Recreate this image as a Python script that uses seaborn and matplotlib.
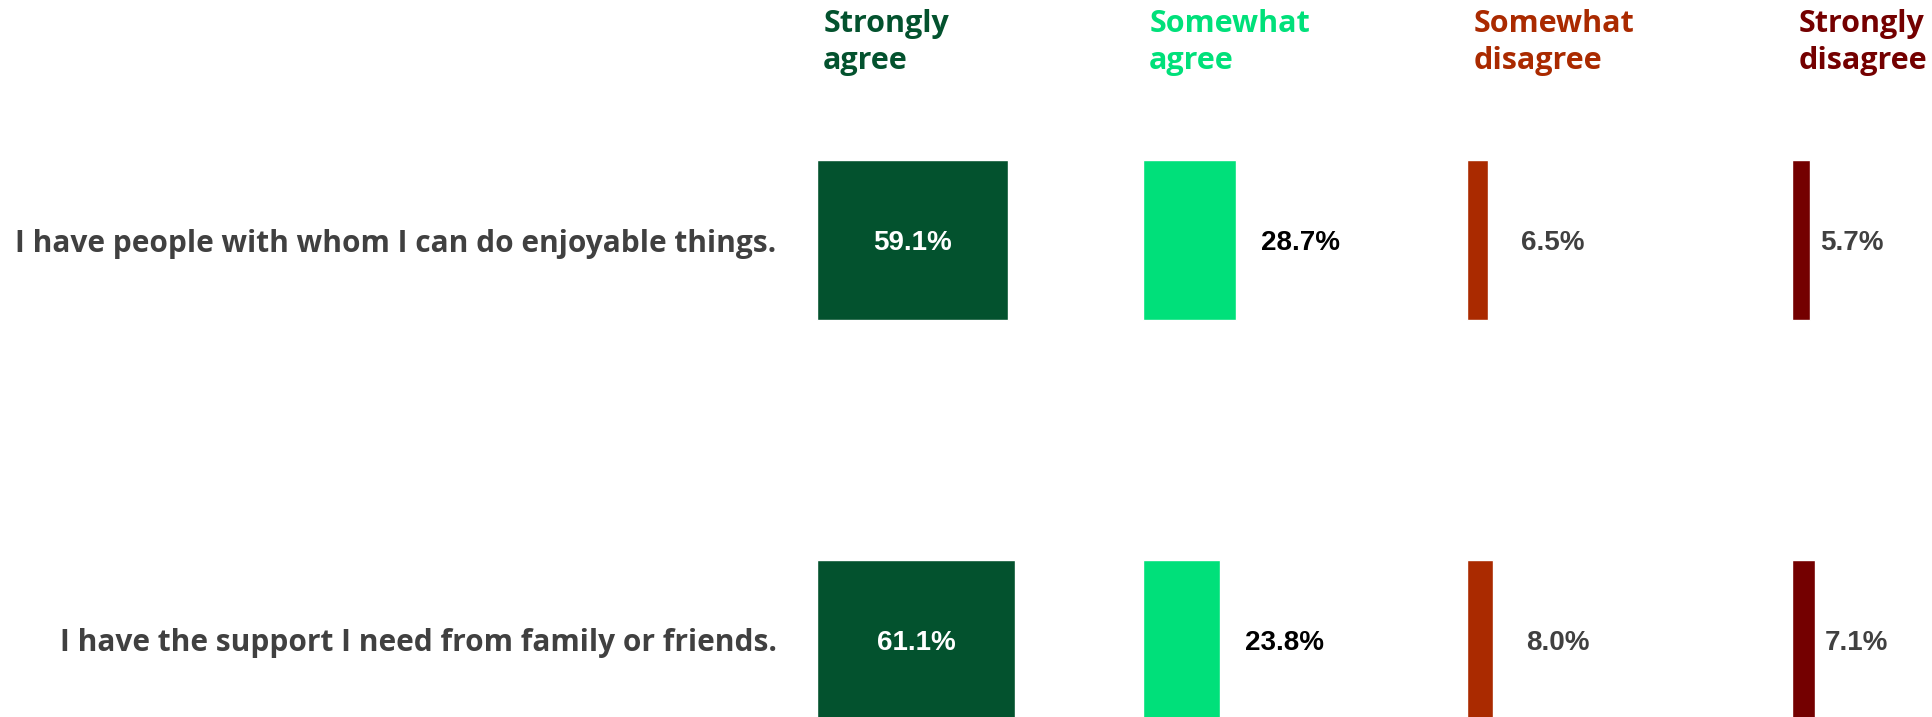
import seaborn as sns
import pandas as pd
import matplotlib.pyplot as plt

statements = [
    "I have people with whom I can do enjoyable things.",
    "I have the support I need from family or friends.",
]
responses = ["Strongly agree", "Somewhat agree", "Somewhat disagree", "Strongly disagree"]
headers = ["Strongly\nagree", "Somewhat\nagree", "Somewhat\ndisagree", "Strongly\ndisagree"]
strongly_agree = [59.1, 61.1]
somewhat_agree = [28.7, 23.8]
somewhat_disagree = [6.5, 8.0]
strongly_disagree = [5.7, 7.1]

colors = ["#03522E", "#00E07A", "#AA2A00", "#740000"]
label_colors = ["white", "black", "#404040", "#404040"]
label_offsets = [0, 18, 24, 7]  # points after the bar end

df = pd.DataFrame({
    "statement": statements * 4,
    "response": [r for r in responses for _ in statements],
    "value": strongly_agree + somewhat_agree + somewhat_disagree + strongly_disagree,
})

sns.set_theme(style="white")
plt.rcParams["font.family"] = ["Open Sans", "DejaVu Sans"]

W, H = 1933, 717
fig = plt.figure(figsize=(W / 100, H / 100), dpi=100)
fig.patch.set_facecolor("white")

px_per_pct = 3.24
col_left = [817, 1143, 1467, 1792]
col_width = 300

for i, resp in enumerate(responses):
    ax = fig.add_axes([col_left[i] / W, 0, col_width / W, 1])
    ax.patch.set_alpha(0)
    sub = df[df["response"] == resp]
    sns.barplot(data=sub, x="value", y="statement", color=colors[i], width=0.4,
                saturation=1, orient="h", ax=ax)
    ax.set_xlim(0, col_width / px_per_pct)
    # row centres at 240 px and 640 px from top
    ax.set_ylim(1 + (H - 640) / 400, -240 / 400)
    sns.despine(ax=ax, left=True, bottom=True)
    ax.set_xticks([])
    ax.set_xlabel("")
    ax.set_ylabel("")
    if i == 0:
        ax.tick_params(axis="y", length=0, pad=29)
        for t in ax.get_yticklabels():
            t.set_fontsize(21.5)
            t.set_fontweight("bold")
            t.set_color("#404040")
    else:
        ax.set_yticks([])

    for bar, val in zip(ax.patches, sub["value"]):
        yc = bar.get_y() + bar.get_height() / 2
        x = bar.get_width() / 2 if i == 0 else bar.get_width()
        ax.annotate(f"{val:.1f}%", (x, yc), xytext=(label_offsets[i], -2.5),
                    textcoords="offset points", ha="center" if i == 0 else "left",
                    va="center", color=label_colors[i], fontsize=20,
                    fontweight="bold", family="Liberation Sans")

    ax.annotate(headers[i], (0, 1), xycoords="axes fraction", xytext=(4.5, -6.5),
                textcoords="offset points", ha="left", va="top",
                color=colors[i], fontsize=22, fontweight="bold", linespacing=1.3)

fig.savefig("out.png", dpi=100)
